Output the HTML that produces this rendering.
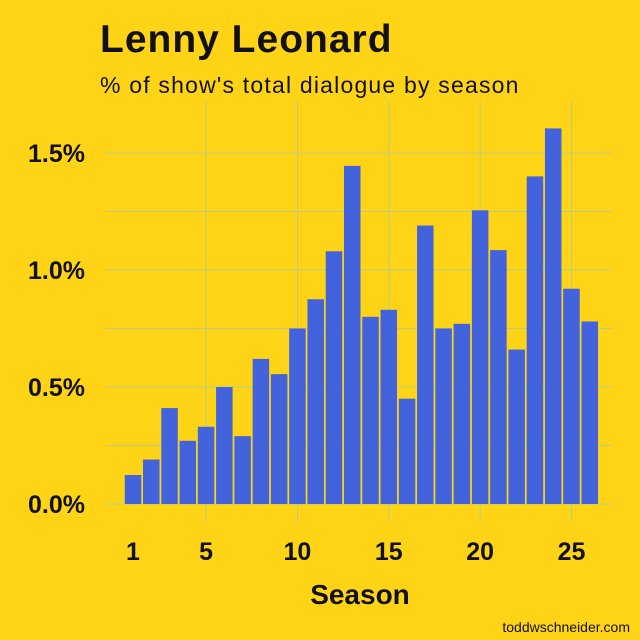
<!DOCTYPE html>
<html><head><meta charset="utf-8"><style>
html,body{margin:0;padding:0;background:#FFD416;}
svg{display:block;font-family:"Liberation Sans",sans-serif;}
</style></head><body>
<svg width="640" height="640">
<rect width="640" height="640" fill="#FFD416"/>
<text x="100" y="52" font-size="39" font-weight="bold" fill="#111" letter-spacing="1">Lenny Leonard</text>
<text x="100" y="93" font-size="23" fill="#111" letter-spacing="1.2">% of show's total dialogue by season</text>
<g id="grid"></g>
<g id="bars"></g>
<g id="axes"></g>
<text x="360" y="604" font-size="28" font-weight="bold" text-anchor="middle" fill="#111">Season</text>
<text x="630" y="632" font-size="14" text-anchor="end" fill="#111">toddwschneider.com</text>
</svg>
<script>
const seasons=[1,2,3,4,5,6,7,8,9,10,11,12,13,14,15,16,17,18,19,20,21,22,23,24,25,26];
const values=[0.124,0.19,0.41,0.27,0.33,0.50,0.29,0.62,0.555,0.75,0.875,1.08,1.445,0.80,0.83,0.45,1.19,0.75,0.77,1.255,1.085,0.66,1.40,1.605,0.92,0.78];
const xTicks=[1,5,10,15,20,25];
const yTicks=[0,0.5,1.0,1.5];
const yTickLabels=["0.0%","0.5%","1.0%","1.5%"];
const yMinor=[0.25,0.75,1.25];
const NS="http://www.w3.org/2000/svg";
const x=s=>133+(s-1)*18.27;
const y=v=>504-v*234;
const bw=16.5;
function mk(t,a,p){const e=document.createElementNS(NS,t);for(const k in a)e.setAttribute(k,a[k]);p.appendChild(e);return e;}
const grid=document.getElementById('grid'),bars=document.getElementById('bars'),axes=document.getElementById('axes');
yTicks.concat(yMinor).forEach(v=>{const l=mk('line',{x1:106,x2:612,y1:y(v),y2:y(v),stroke:'#B5CE82','stroke-width':1},grid);

});
xTicks.forEach(s=>{if(s===1)return;const l=mk('line',{x1:x(s),x2:x(s),y1:100,y2:522,stroke:'#B5CE82','stroke-width':1},grid);

});
seasons.forEach((s,i)=>{const r=mk('rect',{x:x(s)-bw/2,y:y(values[i]),width:bw,height:y(0)-y(values[i]),fill:'#4263DB'},bars);

});
yTicks.forEach((v,i)=>{const t=mk('text',{x:85,y:y(v)+9,'font-size':25,'font-weight':'bold','text-anchor':'end',fill:'#111'},axes);t.textContent=yTickLabels[i];

});
xTicks.forEach(s=>{const t=mk('text',{x:x(s),y:560,'font-size':25,'font-weight':'bold','text-anchor':'middle',fill:'#111'},axes);t.textContent=s;

});
</script>
</body></html>
